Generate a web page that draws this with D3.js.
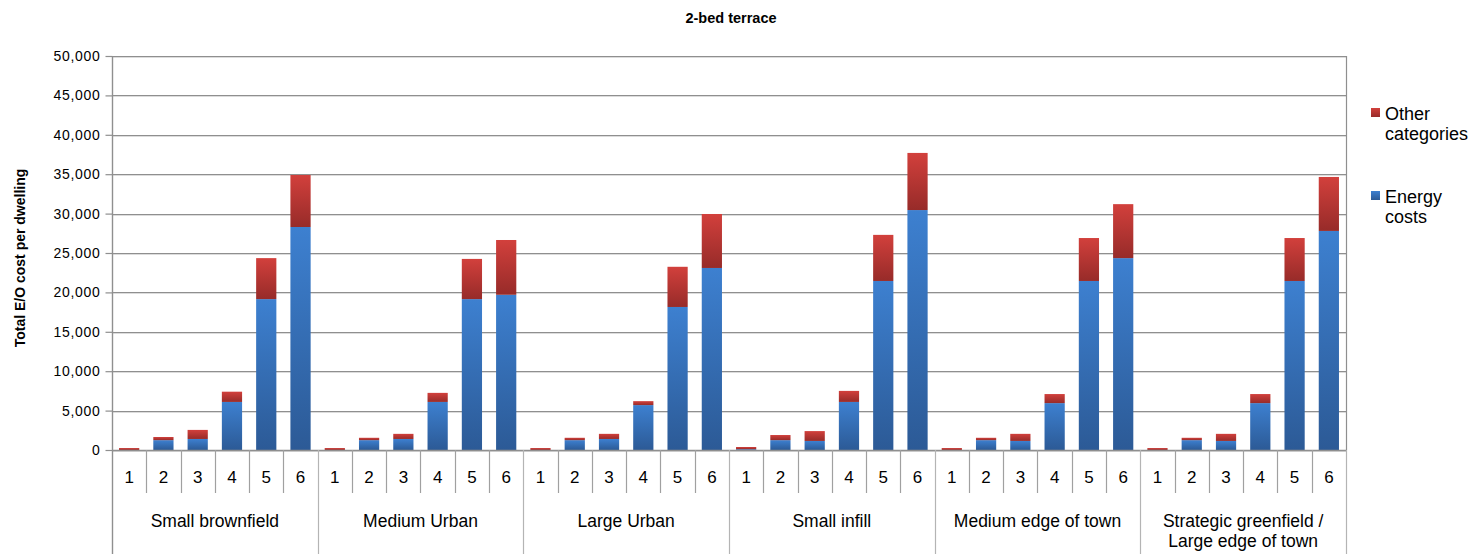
<!DOCTYPE html>
<html>
<head>
<meta charset="utf-8">
<script src="https://cdn.jsdelivr.net/npm/d3@7"></script>
<style>
  html, body { margin: 0; padding: 0; background: #fff; }
  svg { display: block; font-family: "Liberation Sans", Arial, sans-serif; }
</style>
</head>
<body>
<svg id="chart" width="1480" height="554"></svg>
<script>
// Site typologies and the six scenarios shown for each
const groups = [
  ["Small brownfield"],
  ["Medium Urban"],
  ["Large Urban"],
  ["Small infill"],
  ["Medium edge of town"],
  ["Strategic greenfield /", "Large edge of town"]
];
const scenarios = ["1", "2", "3", "4", "5", "6"];

// Energy costs per dwelling (bottom segment), one row per group
const energyCosts = [
  [0, 1250, 1400, 6100, 19150, 28300],
  [0, 1250, 1400, 6100, 19150, 19700],
  [0, 1250, 1400, 5700, 18150, 23100],
  [100, 1250, 1150, 6100, 21450, 30450],
  [0, 1250, 1150, 5950, 21450, 24350],
  [0, 1250, 1150, 5950, 21450, 27800]
];
// Other categories per dwelling (top segment)
const otherCosts = [
  [250, 400, 1150, 1300, 5200, 6600],
  [250, 300, 650, 1150, 5100, 6950],
  [250, 300, 650, 500, 5100, 6850],
  [280, 650, 1250, 1400, 5850, 7250],
  [250, 300, 900, 1150, 5450, 6850],
  [250, 300, 900, 1150, 5450, 6850]
];

const yTicks = [0, 5000, 10000, 15000, 20000, 25000, 30000, 35000, 40000, 45000, 50000];
const seriesNames = ["Other categories", "Energy costs"];

const svg = d3.select("#chart");
const margin = { left: 112, right: 1346, top: 56, bottom: 450 };

// Flatten to one row per bar
const rows = [];
groups.forEach((g, gi) => {
  scenarios.forEach((s, si) => {
    rows.push({ key: gi + "-" + si, group: gi, scenario: s,
      energy: energyCosts[gi][si], other: otherCosts[gi][si] });
  });
});

// One band per bar; the band holds the bar, the slot spacing is the step
const x = d3.scaleBand()
  .domain(rows.map(r => r.key))
  .range([margin.left, margin.right])
  .paddingInner(0.41)
  .paddingOuter(0.205);
const slotW = x.step();
const slotLeft = k => x(k) - (slotW - x.bandwidth()) / 2;

const y = d3.scaleLinear().domain([0, 50000]).range([margin.bottom, margin.top]);

// Gradients for the two series
const defs = svg.append("defs");
function grad(id, top, bottom) {
  const g = defs.append("linearGradient").attr("id", id)
    .attr("x1", 0).attr("y1", 0).attr("x2", 0).attr("y2", 1);
  g.append("stop").attr("offset", "0%").attr("stop-color", top);
  g.append("stop").attr("offset", "100%").attr("stop-color", bottom);
}
grad("gBlue", "#3d80d0", "#2c5a96");
grad("gRed", "#d2403c", "#972b29");

// Gridlines
const grid = svg.append("g");
yTicks.forEach(t => {
  const yy = Math.round(y(t)) + 0.5;
  grid.append("line").attr("x1", margin.left).attr("x2", margin.right)
    .attr("y1", yy + 1).attr("y2", yy + 1).attr("stroke", "#dcdcdc").attr("stroke-width", 1);
  grid.append("line").attr("x1", margin.left).attr("x2", margin.right)
    .attr("y1", yy).attr("y2", yy).attr("stroke", "#8f8f8f").attr("stroke-width", 1.2);
});

// Right border of the plot area
svg.append("line").attr("x1", margin.right + 0.5).attr("x2", margin.right + 0.5)
  .attr("y1", margin.top).attr("y2", margin.bottom).attr("stroke", "#8f8f8f").attr("stroke-width", 1.2);

// Stacked bars
const bars = svg.append("g");
rows.forEach(r => {
  if (r.energy > 0) {
    bars.append("rect")
      .attr("x", x(r.key)).attr("width", x.bandwidth())
      .attr("y", y(r.energy)).attr("height", y(0) - y(r.energy))
      .attr("fill", "url(#gBlue)");
  }
  bars.append("rect")
    .attr("x", x(r.key)).attr("width", x.bandwidth())
    .attr("y", y(r.energy + r.other)).attr("height", y(r.energy) - y(r.energy + r.other))
    .attr("fill", "url(#gRed)");
});

// Y axis
const yAxis = d3.axisLeft(y).tickValues(yTicks).tickFormat(d3.format(",")).tickSize(7).tickPadding(5);
const ya = svg.append("g").attr("transform", `translate(${margin.left + 0.5},0)`).call(yAxis);
ya.select(".domain").remove();
ya.selectAll(".tick line").attr("stroke", "#8f8f8f").attr("stroke-width", 1.2);
ya.selectAll(".tick text").attr("font-size", 14).attr("fill", "#000")
  .attr("font-family", "Liberation Sans, Arial, sans-serif").attr("letter-spacing", 0.7);
svg.append("line").attr("x1", margin.left + 0.5).attr("x2", margin.left + 0.5)
  .attr("y1", margin.top).attr("y2", 554).attr("stroke", "#8f8f8f").attr("stroke-width", 1.4);

// Category axis line
svg.append("line").attr("x1", margin.left).attr("x2", margin.right + 1)
  .attr("y1", margin.bottom + 0.5).attr("y2", margin.bottom + 0.5)
  .attr("stroke", "#8f8f8f").attr("stroke-width", 1.4);

// Scenario separators and labels
const cat = svg.append("g");
rows.forEach((r, i) => {
  const left = slotLeft(r.key);
  if (i > 0) {
    const isGroup = r.scenario === "1";
    cat.append("line").attr("x1", Math.round(left) + 0.5).attr("x2", Math.round(left) + 0.5)
      .attr("y1", margin.bottom).attr("y2", isGroup ? 554 : 493)
      .attr("stroke", isGroup ? "#b4b4b4" : "#a0a0a0").attr("stroke-width", 1.2);
  }
  cat.append("text").attr("x", left + slotW / 2).attr("y", 483)
    .attr("text-anchor", "middle").attr("font-size", 17).attr("fill", "#000")
    .text(r.scenario);
});
svg.append("line").attr("x1", margin.right + 0.5).attr("x2", margin.right + 0.5)
  .attr("y1", margin.bottom).attr("y2", 554).attr("stroke", "#b4b4b4").attr("stroke-width", 1.2);

// Group labels
groups.forEach((g, gi) => {
  const cx = margin.left + (gi + 0.5) * slotW * scenarios.length;
  const t = cat.append("text").attr("text-anchor", "middle").attr("font-size", 17.5).attr("fill", "#000");
  g.forEach((line, li) => {
    t.append("tspan").attr("x", cx).attr("y", 527 + li * 20).text(line);
  });
});

// Title
svg.append("text").attr("x", 731).attr("y", 23).attr("text-anchor", "middle")
  .attr("font-size", 14.5).attr("font-weight", "bold").attr("fill", "#000").text("2-bed terrace");

// Y axis title
svg.append("text").attr("transform", "translate(25,258) rotate(-90)")
  .attr("text-anchor", "middle").attr("font-size", 14).attr("font-weight", "bold")
  .attr("fill", "#000").text("Total E/O cost per dwelling");

// Legend
const legend = svg.append("g");
const legendItems = [
  { lines: ["Other", "categories"], fill: "url(#gRed)", y: 108 },
  { lines: ["Energy", "costs"], fill: "url(#gBlue)", y: 191 }
];
legendItems.forEach(it => {
  legend.append("rect").attr("x", 1371).attr("y", it.y).attr("width", 9).attr("height", 9).attr("fill", it.fill);
  const t = legend.append("text").attr("font-size", 18).attr("fill", "#000");
  it.lines.forEach((l, li) => t.append("tspan").attr("x", 1385).attr("y", it.y + 12 + li * 20).text(l));
});
</script>
</body>
</html>
